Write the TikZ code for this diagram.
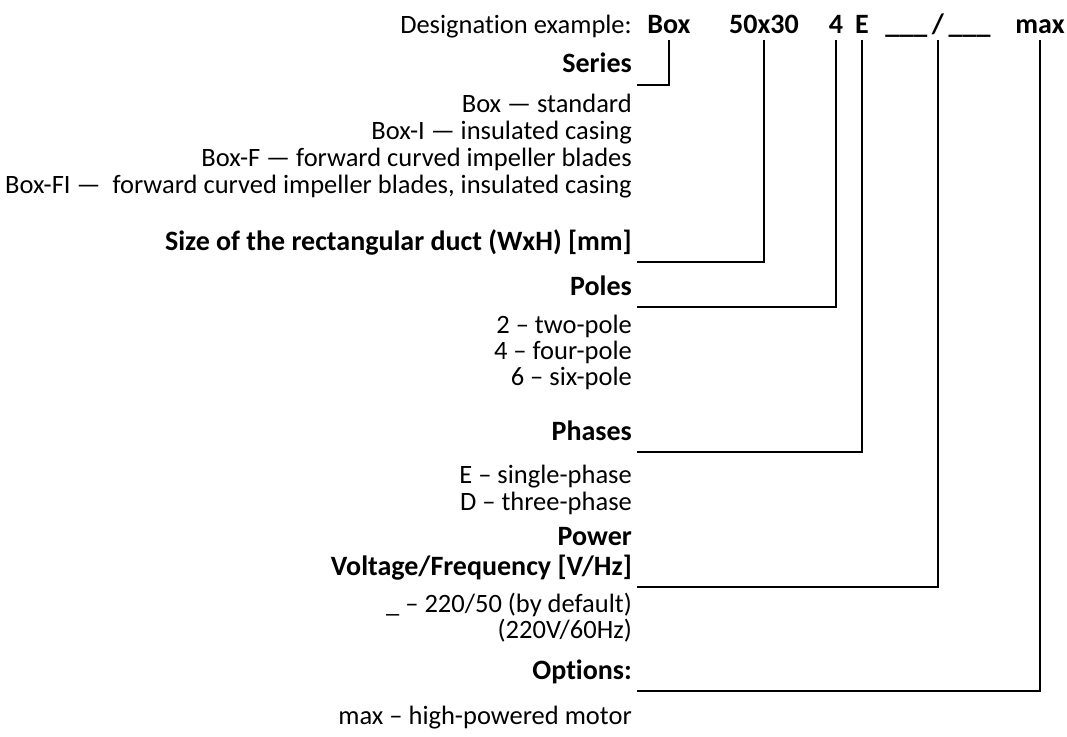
\documentclass[tikz,border=0pt]{standalone}
\usepackage{fontspec}
\setmainfont{Carlito}[Ligatures=NoCommon]
\usetikzlibrary{calc}

\begin{document}
\begin{tikzpicture}[x=1pt,y=-1pt,
  txt/.style={anchor=base east,inner sep=0pt,font=\fontsize{26.5}{30}\selectfont},
  ttl/.style={txt,font=\fontsize{28}{32}\selectfont\bfseries},
  code/.style={anchor=base,inner sep=0pt,font=\fontsize{28}{32}\selectfont\bfseries},
  lead/.style={line width=1.2pt}]
\useasboundingbox (0,0) rectangle (1067,736);

% designation example
\node[txt] (intro) at (632,33) {Designation example:};
\node[code] (cBox) at (669,33) {Box};
\node[code] (cSize) at (764,33) {50x30};
\node[code] (cPoles) at (836,33) {4};
\node[code] (cPhase) at (862,33) {E};
\node[code] (cPower) at (938,33) {\_\_\_\,/\,\_\_\_};
\node[code] (cOpt) at (1040,33) {max};
\coordinate (top) at (0,40);

% Series
\node[ttl] (series) at (632,72) {Series};
\foreach \t [count=\i] in {Box — standard, Box-I — insulated casing,
  Box-F — forward curved impeller blades,
  {Box-FI —\ \ forward curved impeller blades, insulated casing}}
{
\node[txt] (ser\i) at (632,{85+27*\i}) {\t};
}

% Size
\node[ttl] (size) at (632,250) {Size of the rectangular duct (WxH) [mm]};

% Poles
\node[ttl] (poles) at (632,295) {Poles};
\foreach \t [count=\i] in {2 – two-pole, 4 – four-pole, 6 – six-pole}
{
\node[txt] (pol\i) at (632,{307+26*\i}) {\t};
}

% Phases
\node[ttl] (phases) at (632,440) {Phases};
\node[txt] (ph1) at (632,483) {E – single-phase};
\node[txt] (ph2) at (632,510) {D – three-phase};

% Power
\node[ttl] (power) at (632,545) {Power};
\node[ttl] (volt) at (632,575) {Voltage/Frequency [V/Hz]};
\node[txt] (pw1) at (632,612) {\_ – 220/50 (by default)};
\node[txt] (pw2) at (632,638) {(220V/60Hz)};

% Options
\node[ttl] (options) at (632,679) {Options:};
\node[txt] (op1) at (632,724) {max – high-powered motor};

% leader lines
\coordinate (jSeries) at (637,85);
\coordinate (jSize) at (637,262);
\coordinate (jPoles) at (637,307);
\coordinate (jPhase) at (637,452);
\coordinate (jPower) at (637,587);
\coordinate (jOpt) at (637,691);

\draw[lead] (cBox |- top) |- (jSeries);
\draw[lead] (cSize |- top) |- (jSize);
\draw[lead] (cPoles |- top) |- (jPoles);
\draw[lead] (cPhase |- top) |- (jPhase);
\draw[lead] (cPower |- top) |- (jPower);
\draw[lead] (cOpt |- top) |- (jOpt);

\end{tikzpicture}
\end{document}
